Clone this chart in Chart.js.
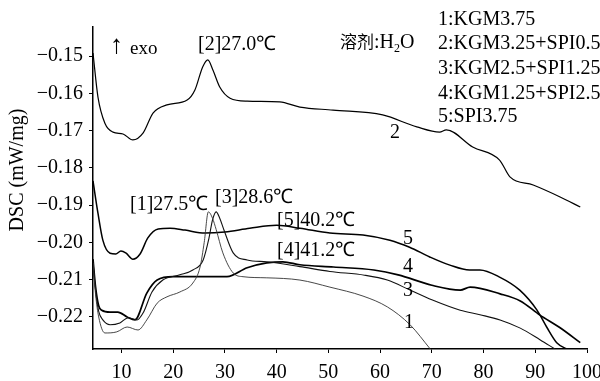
<!DOCTYPE html>
<html>
<head>
<meta charset="utf-8">
<script src="https://cdn.jsdelivr.net/npm/chart.js@4"></script>
<style>
  html, body { margin: 0; padding: 0; background: #fff; }
  #wrap { width: 600px; height: 381px; }
</style>
</head>
<body>
<div id="wrap"><canvas id="ch-dsc" width="600" height="381"></canvas></div>
<script>
// ====================== DATA ======================
const xTicks = [10, 20, 30, 40, 50, 60, 70, 80, 90, 100];
const yTicks = [-0.15, -0.16, -0.17, -0.18, -0.19, -0.20, -0.21, -0.22];

const seriesNames = ['1:KGM3.75', '2:KGM3.25+SPI0.5', '3:KGM2.5+SPI1.25', '4:KGM1.25+SPI2.5', '5:SPI3.75'];

// temperature (°C) / DSC (mW/mg)
const temp1 = [4.5, 5.0, 5.6, 6.8, 9.1, 11.1, 13.2, 14.9, 16.9, 18.8, 21.3, 23.8, 25.2, 26.0, 26.8, 27.6, 28.3, 29.6, 31.6, 33.5, 38.1, 44.5, 50.3, 56.7, 61.4, 65.8, 69.7];
const dsc1  = [-0.2055, -0.2140, -0.2200, -0.2243, -0.2240, -0.2227, -0.2235, -0.2208, -0.2163, -0.2146, -0.2133, -0.2109, -0.2066, -0.2000, -0.1918, -0.1935, -0.1965, -0.2028, -0.2082, -0.2092, -0.2095, -0.2101, -0.2120, -0.2144, -0.2173, -0.2221, -0.2286];

const temp2 = [4.5, 5.46, 6.8, 8.36, 10.3, 12.2, 14.2, 16.1, 18.8, 22.7, 24.2, 25.7, 26.7, 27.7, 29.0, 31.0, 34.3, 40.6, 44.5, 50.9, 60.5, 67.1, 71.5, 72.8, 77.9, 83.1, 85.1, 89.6, 94.8, 98.7];
const dsc2  = [-0.1492, -0.1610, -0.1680, -0.1704, -0.1709, -0.1725, -0.1706, -0.1653, -0.1631, -0.1618, -0.1591, -0.1529, -0.1510, -0.1538, -0.1583, -0.1613, -0.1621, -0.1623, -0.1637, -0.1645, -0.1658, -0.1690, -0.1704, -0.1698, -0.1744, -0.1779, -0.1824, -0.1846, -0.1878, -0.1905];

const temp3 = [4.5, 5.0, 5.6, 6.4, 7.8, 9.7, 11.3, 13.0, 14.2, 15.9, 18.0, 21.3, 23.8, 25.8, 26.9, 27.6, 28.3, 29.0, 29.8, 31.6, 34.3, 38.1, 44.5, 50.3, 57.0, 61.4, 65.8, 70.0, 75.5, 79.3, 83.2, 87.1, 90.9, 93.8];
const dsc3  = [-0.2050, -0.2130, -0.2185, -0.2208, -0.2221, -0.2216, -0.2202, -0.2208, -0.2189, -0.2133, -0.2101, -0.2087, -0.2074, -0.2047, -0.1990, -0.1940, -0.1918, -0.1935, -0.1966, -0.2028, -0.2047, -0.2052, -0.2065, -0.2078, -0.2088, -0.2101, -0.2128, -0.2154, -0.2182, -0.2194, -0.2208, -0.2230, -0.2261, -0.2286];

const temp4 = [4.5, 5.0, 5.6, 6.2, 7.8, 9.3, 11.1, 12.6, 14.9, 16.9, 20.0, 23.2, 30.4, 34.3, 38.1, 41.2, 44.5, 51.0, 58.8, 63.5, 70.0, 75.5, 77.4, 83.2, 87.1, 90.9, 94.8, 98.7];
const dsc4  = [-0.2045, -0.2120, -0.2170, -0.2182, -0.2187, -0.2187, -0.2200, -0.2208, -0.2136, -0.2101, -0.2092, -0.2092, -0.2092, -0.2068, -0.2055, -0.2052, -0.2060, -0.2066, -0.2074, -0.2087, -0.2115, -0.2128, -0.2120, -0.2138, -0.2157, -0.2195, -0.2229, -0.2269];

const temp5 = [4.5, 5.45, 6.4, 7.8, 8.9, 9.9, 10.9, 12.2, 13.6, 15.1, 17.1, 19.4, 22.3, 26.1, 30.0, 34.8, 40.0, 44.5, 50.3, 56.7, 61.9, 65.7, 69.6, 73.5, 77.3, 79.3, 83.1, 87.0, 90.3, 92.2, 94.2, 96.1];
const dsc5  = [-0.1835, -0.1921, -0.1994, -0.2029, -0.2031, -0.2023, -0.2029, -0.2045, -0.2031, -0.1988, -0.1964, -0.1962, -0.1967, -0.1975, -0.1972, -0.1962, -0.1954, -0.1962, -0.1975, -0.1980, -0.1994, -0.2013, -0.2039, -0.2061, -0.2074, -0.2074, -0.2093, -0.2128, -0.2181, -0.2227, -0.2270, -0.2286];

// peak annotations
const peakLabels = ['[1]27.5℃', '[2]27.0℃', '[3]28.6℃', '[4]41.2℃', '[5]40.2℃'];

// ====================== CHART ======================
const SERIF = '"Liberation Serif", "Times New Roman", serif';
const pts = (xs, ys) => xs.map((x, i) => ({ x, y: ys[i] }));
const minus = v => (v < 0 ? '\u2212' : '') + Math.abs(v).toFixed(2);

function line(data, width, color) {
  return { data, borderColor: color, borderWidth: width, pointRadius: 0, fill: false, cubicInterpolationMode: 'monotone' };
}

const annotate = {
  id: 'annotate',
  afterDraw(chart) {
    const ctx = chart.ctx;
    ctx.save();
    ctx.fillStyle = '#000';
    ctx.textBaseline = 'middle';
    ctx.textAlign = 'left';

    ctx.font = '26px ' + SERIF;
    ctx.fillText('\u2191', 110, 46);
    ctx.font = '19px ' + SERIF;
    ctx.fillText('exo', 130, 49);

    ctx.font = '20px ' + SERIF;
    ctx.fillText(peakLabels[1], 198, 45);
    ctx.fillText(peakLabels[0], 130, 205);
    ctx.fillText(peakLabels[2], 215, 198);
    ctx.fillText(peakLabels[4], 277, 221);
    ctx.fillText(peakLabels[3], 277, 251);

    // solvent note
    let x = 340;
    ctx.font = '17px "Noto Sans CJK SC"';
    ctx.fillText('溶剂', x, 42); x += ctx.measureText('溶剂').width;
    ctx.font = '20px ' + SERIF;
    ctx.fillText(':H', x, 43); x += ctx.measureText(':H').width;
    ctx.font = '12px ' + SERIF;
    ctx.fillText('2', x, 49); x += ctx.measureText('2').width;
    ctx.font = '20px ' + SERIF;
    ctx.fillText('O', x, 43);

    // series key
    const keyY = [20, 44, 69, 94, 117];
    seriesNames.forEach((s, i) => ctx.fillText(s, 438, keyY[i]));

    // curve numbers
    ctx.textAlign = 'center';
    ctx.fillText('2', 395, 133);
    ctx.fillText('5', 408, 239);
    ctx.fillText('4', 408, 267);
    ctx.fillText('3', 408, 291);
    ctx.fillText('1', 409, 323);

    // axis title
    ctx.translate(18, 170);
    ctx.rotate(-Math.PI / 2);
    ctx.fillText('DSC (mW/mg)', 0, 0);
    ctx.restore();
  }
};

new Chart(document.getElementById('ch-dsc'), {
  type: 'line',
  data: {
    datasets: [
      line(pts(temp1, dsc1), 0.9, '#333'),
      line(pts(temp2, dsc2), 1.2, '#000'),
      line(pts(temp3, dsc3), 1.1, '#111'),
      line(pts(temp4, dsc4), 1.7, '#000'),
      line(pts(temp5, dsc5), 1.5, '#000')
    ]
  },
  options: {
    responsive: false, animation: false,
    layout: { padding: { top: 27, right: 13, left: 0, bottom: 0 } },
    plugins: { legend: { display: false }, tooltip: { enabled: false } },
    scales: {
      x: {
        type: 'linear', min: 4.5, max: 100,
        afterBuildTicks: s => { s.ticks = xTicks.map(v => ({ value: v })); },
        afterFit: s => { s.height = 32; s.paddingLeft = 0; s.paddingRight = 0; },
        border: { color: '#000', width: 1.5 },
        grid: { drawOnChartArea: false, color: '#000', tickLength: 4 },
        ticks: { color: '#000', padding: 8, maxRotation: 0, font: { family: SERIF, size: 20 } }
      },
      y: {
        min: -0.2286, max: -0.1422,
        afterBuildTicks: s => { s.ticks = yTicks.map(v => ({ value: v })); },
        afterFit: s => { s.width = 93; s.paddingTop = 0; s.paddingBottom = 0; },
        border: { color: '#000', width: 1.5 },
        grid: { drawOnChartArea: false, color: '#000', tickLength: 4 },
        ticks: { color: '#000', padding: 6, font: { family: SERIF, size: 20 }, callback: v => minus(v) }
      }
    }
  },
  plugins: [annotate]
});
</script>
</body>
</html>
